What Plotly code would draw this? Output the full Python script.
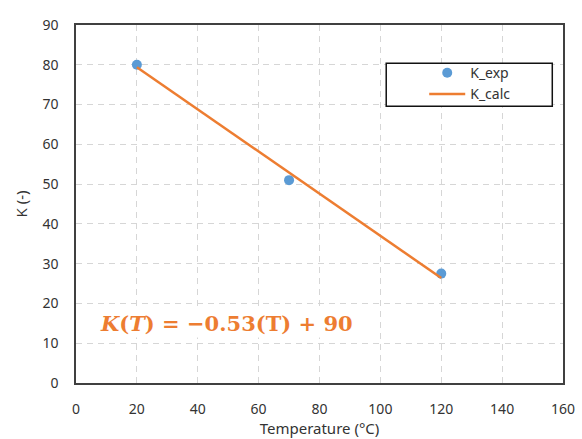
import plotly.graph_objects as go

T_exp = [20, 70, 120]
K_exp = [80, 51, 27.5]
T_calc = [20, 120]
K_calc = [79.4, 26.4]
x_ticks = [0, 20, 40, 60, 80, 100, 120, 140, 160]
y_ticks = [0, 10, 20, 30, 40, 50, 60, 70, 80, 90]

FONT = "Noto Sans"
TXT = "#333333"

fig = go.Figure()
fig.add_trace(go.Scatter(x=T_exp, y=K_exp, mode="markers", name="K_exp",
                         marker=dict(color="#5B9BD5", size=10)))
fig.add_trace(go.Scatter(x=T_calc, y=K_calc, mode="lines", name="K_calc",
                         line=dict(color="#ED7D31", width=2.5)))

axis_common = dict(showgrid=True, gridcolor="#d6d6d6", griddash="6px,5px", gridwidth=1,
                   showline=True, mirror=True, linecolor="#404040", linewidth=1.5,
                   ticks="", zeroline=False, automargin=False,
                   tickfont=dict(family=FONT, size=14, color=TXT))

fig.update_xaxes(range=[0, 160], tickvals=x_ticks, ticktext=[str(v) for v in x_ticks],
                 ticklabelstandoff=12,
                 title=dict(text="Temperature (°C)", font=dict(family=FONT, size=15, color=TXT), standoff=2),
                 **axis_common)
fig.update_yaxes(range=[0, 90], tickvals=y_ticks, ticktext=[str(v) for v in y_ticks],
                 ticklabelstandoff=13,
                 title=dict(text="K (-)", font=dict(family=FONT, size=15, color=TXT), standoff=11),
                 **axis_common)

fig.add_annotation(x=0.045, y=0.165, xref="paper", yref="paper", xanchor="left", yanchor="middle",
                   text="<b><i>K</i>(<i>T</i>) = −0.53(T) + 90</b>", showarrow=False,
                   bgcolor="white",
                   font=dict(family="DejaVu Serif", size=21, color="#ED7D31"))

# legend frame (box drawn behind the legend entries)
fig.add_shape(type="rect", xref="paper", yref="paper",
              x0=0.637, x1=0.978, y0=0.773, y1=0.893,
              line=dict(color="#111111", width=1.5), fillcolor="white", layer="above")

fig.update_layout(
    width=582, height=439,
    margin=dict(l=76, r=19, t=25, b=56, autoexpand=False),
    plot_bgcolor="white", paper_bgcolor="white",
    showlegend=True,
    legend=dict(x=0.637, y=0.91, xanchor="left", yanchor="top",
                borderwidth=0, bgcolor="rgba(0,0,0,0)",
                indentation=38, tracegroupgap=0, itemwidth=36,
                font=dict(family=FONT, size=14, color=TXT)),
)

fig.write_html("out.html", config={"displayModeBar": False},
               post_script="document.body.style.margin='0';")
